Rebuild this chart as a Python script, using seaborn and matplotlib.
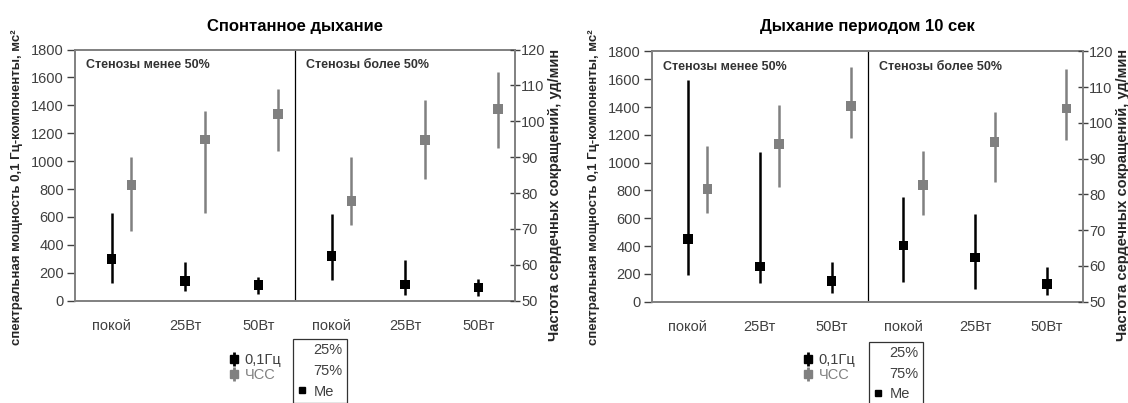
import numpy as np
import pandas as pd
import matplotlib.pyplot as plt
import seaborn as sns
from matplotlib.lines import Line2D
from matplotlib.legend_handler import HandlerTuple

# Категории и группы
categories = ["покой", "25Вт", "50Вт"]
groups = ["Стенозы менее 50%", "Стенозы более 50%"]
titles = ["Спонтанное дыхание", "Дыхание периодом 10 сек"]

# Спонтанное дыхание: мощность 0,1 Гц (мс²) — медиана, 25%, 75%
hf_me_spont = [298, 143, 112, 320, 117, 95]
hf_q25_spont = [124, 72, 48, 148, 41, 33]
hf_q75_spont = [630, 274, 172, 620, 291, 153]
# Спонтанное дыхание: ЧСС (уд/мин)
hr_me_spont = [82.2, 94.9, 102.0, 77.7, 94.7, 103.5]
hr_q25_spont = [69.5, 74.3, 91.8, 71.1, 83.8, 92.5]
hr_q75_spont = [90.1, 102.8, 108.9, 90.0, 106.0, 113.7]

# Дыхание периодом 10 сек
hf_me_paced = [449, 252, 151, 403, 317, 127]
hf_q25_paced = [192, 132, 60, 144, 91, 48]
hf_q75_paced = [1596, 1080, 288, 751, 631, 247]
hr_me_paced = [81.5, 94.1, 104.8, 82.7, 94.7, 104.0]
hr_q25_paced = [74.7, 82.2, 95.7, 74.3, 83.6, 95.1]
hr_q75_paced = [93.6, 105.0, 115.8, 92.3, 103.2, 115.0]

panels = [
    (hf_me_spont, hf_q25_spont, hf_q75_spont, hr_me_spont, hr_q25_spont, hr_q75_spont),
    (hf_me_paced, hf_q25_paced, hf_q75_paced, hr_me_paced, hr_q25_paced, hr_q75_paced),
]

sns.set_style("white")
plt.rcParams["font.family"] = ["Liberation Sans", "DejaVu Sans"]

W, H = 1128, 403
fig = plt.figure(figsize=(W / 100, H / 100), dpi=100)

GREY = "#808080"
TXT = "#404040"
# (left, top, right, bottom) in pixels
boxes = [(75, 49.5, 515, 300.7), (652, 51.5, 1083, 301.7)]
hr_offset = 0.27

for k, (box, vals) in enumerate(zip(boxes, panels)):
    hf_me, hf_lo, hf_hi, hr_me, hr_lo, hr_hi = vals
    l, t, r, b = box
    ax = fig.add_axes([l / W, 1 - b / H, (r - l) / W, (b - t) / H])
    ax2 = ax.twinx()

    x = np.arange(6)
    df = pd.DataFrame({
        "x": x,
        "cat": categories * 2,
        "group": np.repeat(groups, 3),
        "hf_me": hf_me, "hf_lo": hf_lo, "hf_hi": hf_hi,
        "hr_me": hr_me, "hr_lo": hr_lo, "hr_hi": hr_hi,
    })
    df["x_hr"] = df["x"] + hr_offset

    # 0,1 Гц — чёрные
    ax.vlines(df["x"], df["hf_lo"], df["hf_hi"], color="black", lw=1.8, zorder=3)
    sns.scatterplot(data=df, x="x", y="hf_me", marker="s", s=48, color="black",
                    edgecolor="none", ax=ax, legend=False, zorder=4)
    # ЧСС — серые
    ax2.vlines(df["x_hr"], df["hr_lo"], df["hr_hi"], color=GREY, lw=1.8, zorder=3)
    sns.scatterplot(data=df, x="x_hr", y="hr_me", marker="s", s=48, color=GREY,
                    edgecolor="none", ax=ax2, legend=False, zorder=4)

    ax.set_xlim(-0.5, 5.5)
    ax.set_ylim(0, 1800)
    ax2.set_ylim(50, 120)
    ax.set_yticks(np.arange(0, 1801, 200))
    ax2.set_yticks(np.arange(50, 121, 10))
    ax.set_xticks(x)
    ax.set_xticklabels(df["cat"])
    ax.set_xticks(np.arange(-0.5, 6, 1), minor=True)
    ax.set_xlabel("")
    ax.set_ylabel("")
    ax2.set_ylabel("")

    ax.tick_params(axis="x", which="major", length=0, pad=13, labelsize=10.5, labelcolor=TXT)
    ax.tick_params(axis="x", which="minor", direction="inout", length=7, width=1, color=TXT)
    ax.tick_params(axis="y", direction="out", length=6, width=1, color=TXT, pad=2,
                   labelsize=10.5, labelcolor=TXT, left=True)
    ax2.tick_params(axis="y", direction="inout", length=7, width=1, color=TXT, pad=1,
                    labelsize=10.5, labelcolor=TXT, right=True)

    for s in ["top", "left", "bottom"]:
        ax.spines[s].set_color(GREY)
        ax.spines[s].set_linewidth(1.4)
    ax.spines["right"].set_visible(False)
    for s in ["top", "left", "bottom"]:
        ax2.spines[s].set_visible(False)
    ax2.spines["right"].set_color(GREY)
    ax2.spines["right"].set_linewidth(1.4)

    ax.axvline(2.5, color="black", lw=0.9, zorder=2)

    for gx, g in zip([-0.5, 2.5], groups):
        ax.annotate(g, xy=(gx, 0.94), xycoords=("data", "axes fraction"),
                    xytext=(8, 0), textcoords="offset points", va="center",
                    fontsize=9, fontweight="bold", color="#333333")

    cx = (l + r) / 2
    fig.text(cx / W, 1 - 26 / H, titles[k], ha="center", va="center",
             fontsize=12, fontweight="bold", color="black")

    fig.text((l - 58) / W, 1 - 187 / H, "спектральная мощность 0,1 Гц-компоненты, мс²",
             rotation=90, ha="center", va="center", fontsize=9.5, fontweight="bold")
    fig.text((r + 40) / W, 1 - 195 / H, "Частота сердечных сокращений, уд/мин",
             rotation=90, ha="center", va="center", fontsize=10.5, fontweight="bold")

    # легенда маркеров
    h_hf = (Line2D([], [], color="black", marker="|", markersize=10, markeredgewidth=2, ls="none"),
            Line2D([], [], color="black", marker="s", markersize=5.5, ls="none"))
    h_hr = (Line2D([], [], color=GREY, marker="|", markersize=10, markeredgewidth=2, ls="none"),
            Line2D([], [], color=GREY, marker="s", markersize=5.5, ls="none"))
    lx = l + (155 if k == 0 else 152)
    leg1 = fig.legend([h_hf, h_hr], ["0,1Гц", "ЧСС"], loc="upper left",
                      bbox_to_anchor=(lx / W, 1 - 353 / H), frameon=False,
                      handler_map={tuple: HandlerTuple(ndivide=1)},
                      handlelength=0.6, handletextpad=0.4, labelspacing=0.1,
                      fontsize=10.5, borderpad=0, borderaxespad=0)
    leg1.get_texts()[0].set_color(TXT)
    leg1.get_texts()[1].set_color(GREY)

    # легенда квартилей
    bx = l + (218 if k == 0 else 217)
    empty = Line2D([], [], ls="none")
    h_me = Line2D([], [], color="black", marker="s", markersize=4.5, ls="none")
    leg2 = fig.legend([empty, empty, h_me], ["25%", "75%", "Me"], loc="upper left",
                      bbox_to_anchor=(bx / W, 1 - (339 if k == 0 else 342) / H),
                      frameon=True, fancybox=False, edgecolor="black",
                      handlelength=0.6, handletextpad=0.5, labelspacing=0.45,
                      fontsize=10.5, borderpad=0.3, borderaxespad=0)
    leg2.get_frame().set_linewidth(0.9)
    for tx in leg2.get_texts():
        tx.set_color(TXT)

fig.savefig("out.png", dpi=100)
